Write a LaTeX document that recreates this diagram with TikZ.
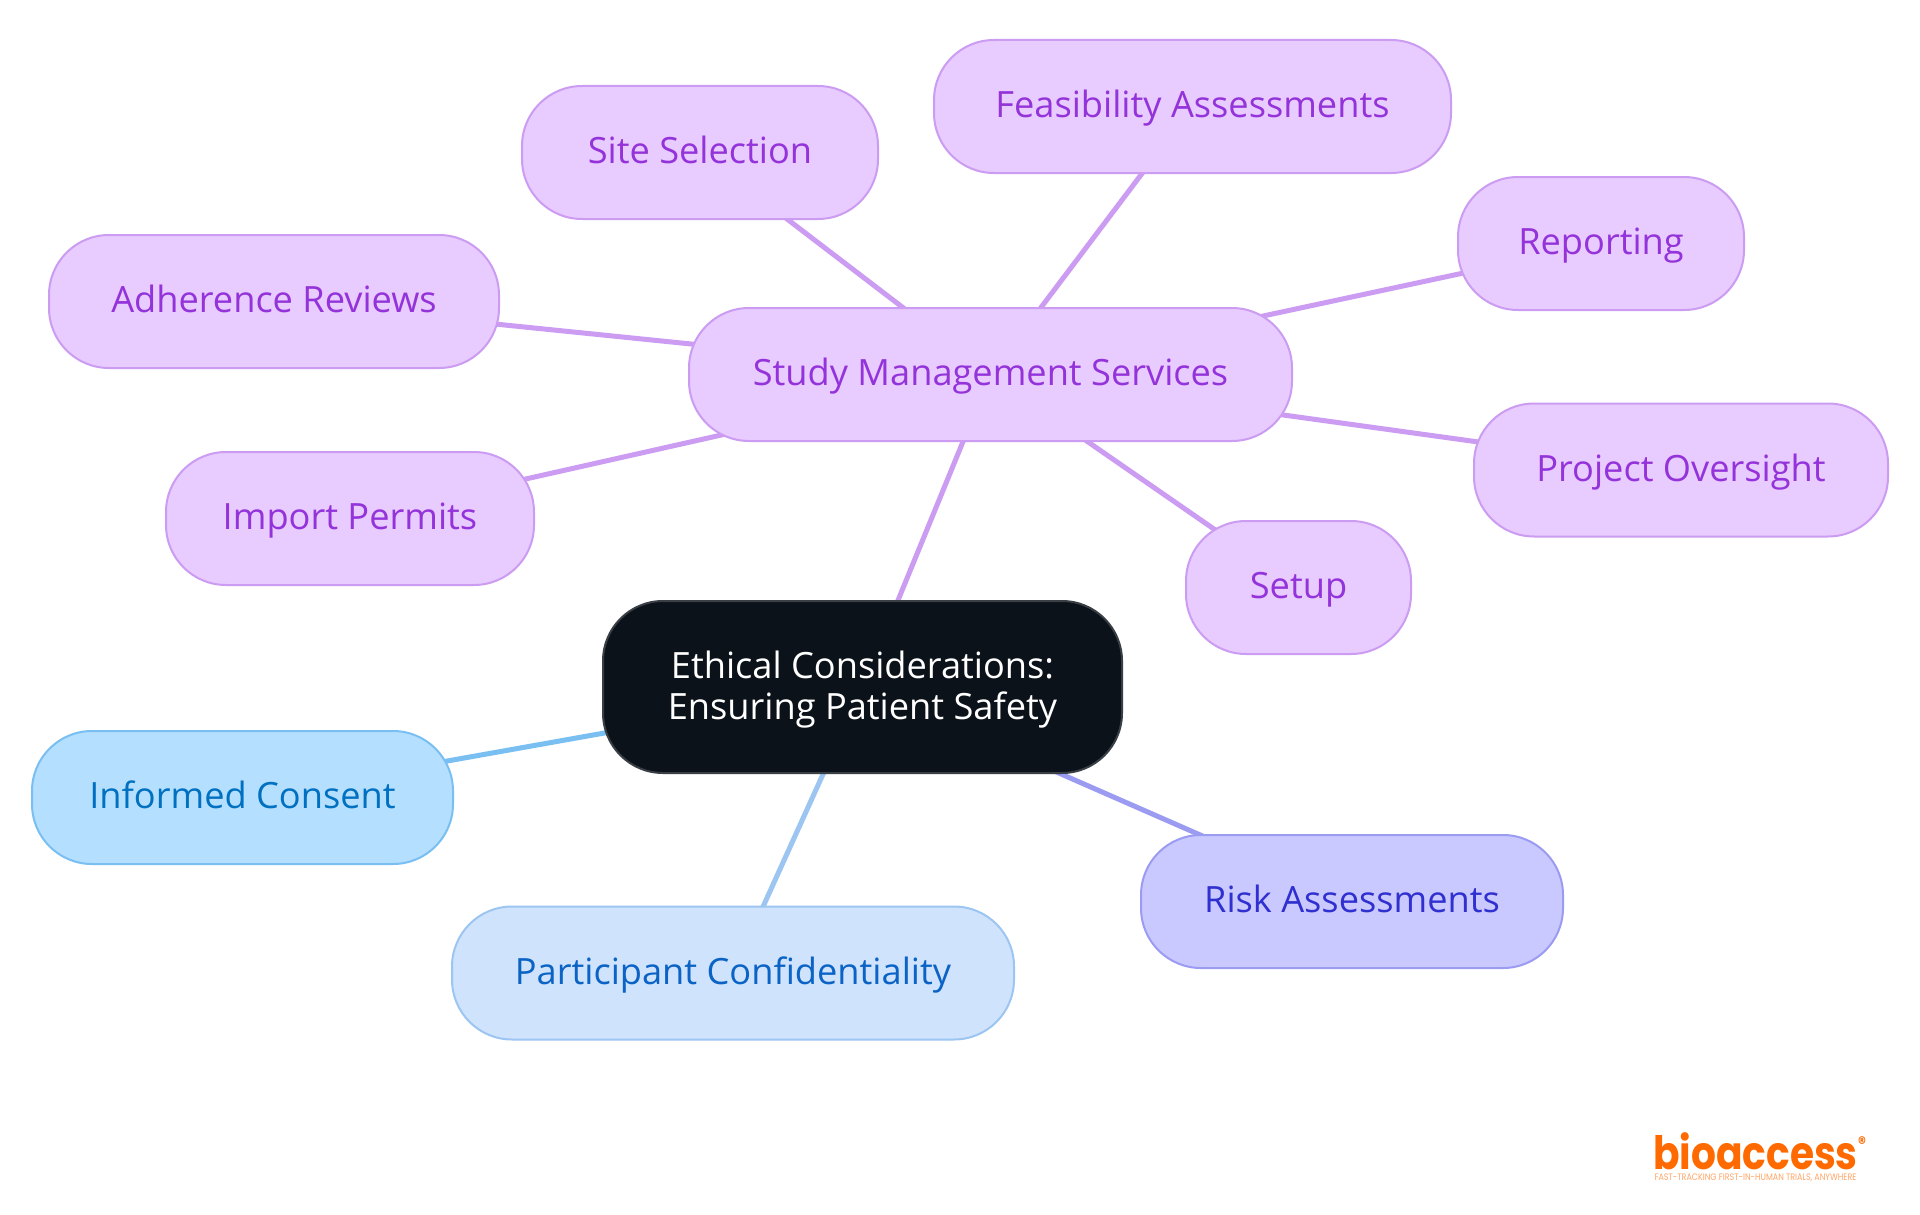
\documentclass[tikz,border=0pt]{standalone}
\usepackage{fontspec}
\setmainfont{Open Sans}
\newfontfamily\logofont[FakeStretch=0.85]{Poppins}
\usepackage{xcolor}
\usepackage{tikz}
\usetikzlibrary{backgrounds}
\definecolor{purplefill}{HTML}{E8CBFF}
\definecolor{purpleline}{HTML}{CB9CF2}
\definecolor{purpletext}{HTML}{9333D9}
\definecolor{skyfill}{HTML}{B5DFFF}
\definecolor{skyline}{HTML}{7ABFF2}
\definecolor{skytext}{HTML}{0070C0}
\definecolor{palefill}{HTML}{CFE3FC}
\definecolor{paleline}{HTML}{9CC5F2}
\definecolor{paletext}{HTML}{0B63C5}
\definecolor{indigofill}{HTML}{C9C9FF}
\definecolor{indigoline}{HTML}{9B9BF2}
\definecolor{indigotext}{HTML}{3030D0}
\definecolor{rootfill}{HTML}{0C121A}
\definecolor{rootline}{HTML}{3A3F45}
\definecolor{logoorange}{HTML}{FF6A00}
\tikzset{
	main node/.style={draw,rounded corners=60pt,line width=2pt,align=center,inner sep=0pt,font=\fontsize{36.2}{41}\selectfont},
	leaf node/.style={main node,minimum height=133pt,text height=29pt,text depth=6.6pt},
	service/.style={leaf node,fill=purplefill,draw=purpleline,text=purpletext},
	root node/.style={main node,fill=rootfill,draw=rootline,text=white},
	branch/.style={line width=5pt}
}

\begin{document}
\begin{tikzpicture}[x=1pt,y=-1pt]
	\useasboundingbox (0,0) rectangle (1920,1215);
	\node [root node,minimum width=519pt,minimum height=172pt] (root) at (862.5,687) {\rule{0pt}{33pt}Ethical Considerations:\\Ensuring Patient Safety};
	\node [service,minimum width=603pt] (study) at (990.5,374.5) {Study Management Services};
	\node [service,minimum width=356pt] (site) at (700,152.5) {Site Selection};
	\node [service,minimum width=517pt] (feasibility) at (1192.5,106.5) {Feasibility Assessments};
	\node [service,minimum width=286pt] (reporting) at (1601,243.5) {Reporting};
	\node [service,minimum width=450pt] (adherence) at (274,301.5) {Adherence Reviews};
	\node [service,minimum width=414pt] (oversight) at (1681,470) {Project Oversight};
	\node [service,minimum width=368pt] (permits) at (350,518.5) {Import Permits};
	\node [service,minimum width=225pt] (setup) at (1298.5,587.5) {Setup};
	\node [leaf node,fill=skyfill,draw=skyline,text=skytext,minimum width=421pt] (consent) at (242.5,797.5) {Informed Consent};
	\node [leaf node,fill=palefill,draw=paleline,text=paletext,minimum width=562pt] (confidentiality) at (733,973) {Participant Confidentiality};
	\node [leaf node,fill=indigofill,draw=indigoline,text=indigotext,minimum width=422pt] (risk) at (1352,901.5) {Risk Assessments};
	\node [inner sep=0pt,anchor=base,text=logoorange,font=\logofont\bfseries\fontsize{46}{46}\selectfont] (logo) at (1755.5,1169) {bioaccess};
	\node [inner sep=0pt,text=logoorange,font=\logofont\bfseries\fontsize{18}{18}\selectfont] (mark) at (1862,1143) {®};
	\node [inner sep=0pt,text=logoorange!60,font=\logofont\fontsize{9.4}{10}\selectfont] (tagline) at (1755.5,1178) {FAST-TRACKING FIRST-IN-HUMAN TRIALS, ANYWHERE};
	\begin{scope}[on background layer]
		\fill [white] (0,0) rectangle (1920,1215);
		\draw [branch,purpleline] (root.center) -- (study.center);
		\draw [branch,purpleline] (study.center) -- (site.center);
		\draw [branch,purpleline] (study.center) -- (feasibility.center);
		\draw [branch,purpleline] (study.center) -- (reporting.center);
		\draw [branch,purpleline] (study.center) -- (adherence.center);
		\draw [branch,purpleline] (study.center) -- (oversight.center);
		\draw [branch,purpleline] (study.center) -- (permits.center);
		\draw [branch,purpleline] (study.center) -- (setup.center);
		\draw [branch,skyline] (root.center) -- (consent.center);
		\draw [branch,paleline] (root.center) -- (confidentiality.center);
		\draw [branch,indigoline] (root.center) -- (risk.center);
	\end{scope}
\end{tikzpicture}
\end{document}
